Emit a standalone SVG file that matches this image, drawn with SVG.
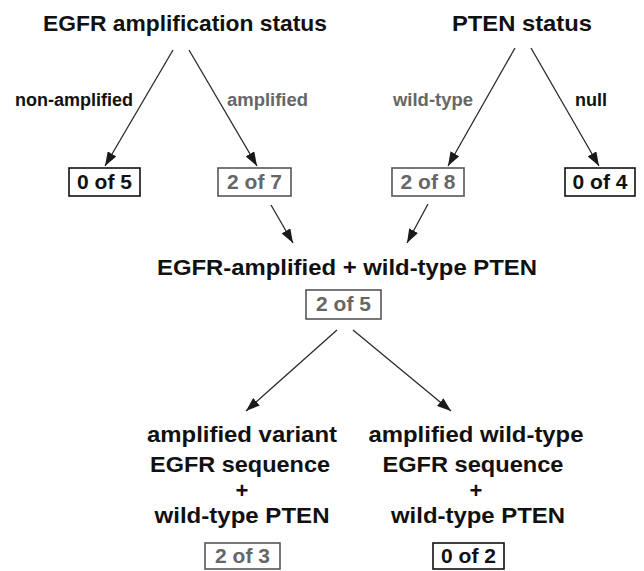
<svg xmlns="http://www.w3.org/2000/svg" width="644" height="571" viewBox="0 0 644 571">
  <defs>
    <marker id="head" viewBox="0 0 14 10" refX="14" refY="5" markerWidth="14" markerHeight="10" markerUnits="userSpaceOnUse" orient="auto">
      <path d="M0,0 L14,5 L0,10 Z" fill="#1a1a1a"/>
    </marker>
    <style>
      text { font-family: "Liberation Sans", Arial, sans-serif; font-weight: bold; text-anchor: middle; }
      .head { font-size: 22px; fill: #111; }
      .lab { font-size: 18px; }
      .num { font-size: 21px; }
      .dark { fill: #111; }
      .gray { fill: #666; }
      .box { fill: #fff; stroke-width: 1.6; }
      .box.dark { stroke: #111; }
      .box.gray { stroke: #555; }
      .conn line { stroke: #2a2a2a; stroke-width: 1.3; marker-end: url(#head); }
    </style>
  </defs>
  <rect width="644" height="571" fill="#fff"/>

  <!-- connectors -->
  <g id="connectors" class="conn">
    <line x1="173" y1="50" x2="105" y2="166"/>
    <line x1="189" y1="50" x2="257" y2="166"/>
    <line x1="515" y1="48" x2="448" y2="166"/>
    <line x1="531" y1="48" x2="599" y2="166"/>
    <line x1="271" y1="205" x2="293" y2="243"/>
    <line x1="428" y1="204" x2="407" y2="243"/>
    <line x1="337" y1="330" x2="246" y2="411"/>
    <line x1="353" y1="330" x2="451" y2="411"/>
  </g>

  <!-- edge labels -->
  <g id="labels">
    <text class="lab dark" x="74" y="106" textLength="118" lengthAdjust="spacingAndGlyphs">non-amplified</text>
    <text class="lab gray" x="267.5" y="106" textLength="81" lengthAdjust="spacingAndGlyphs">amplified</text>
    <text class="lab gray" x="433" y="106" textLength="80" lengthAdjust="spacingAndGlyphs">wild-type</text>
    <text class="lab dark" x="591" y="106" textLength="32" lengthAdjust="spacingAndGlyphs">null</text>
  </g>

  <g id="egfr-status">
    <text class="head" x="185" y="31" textLength="284" lengthAdjust="spacingAndGlyphs">EGFR amplification status</text>
  </g>
  <g id="pten-status">
    <text class="head" x="522" y="31" textLength="140" lengthAdjust="spacingAndGlyphs">PTEN status</text>
  </g>

  <g id="non-amplified-count">
    <rect class="box dark" x="69" y="168" width="71" height="28"/>
    <text class="num dark" x="104.5" y="189">0 of 5</text>
  </g>
  <g id="amplified-count">
    <rect class="box gray" x="218" y="168" width="73" height="28"/>
    <text class="num gray" x="254.5" y="189">2 of 7</text>
  </g>
  <g id="wild-type-count">
    <rect class="box gray" x="392" y="168" width="72" height="28"/>
    <text class="num gray" x="428" y="189">2 of 8</text>
  </g>
  <g id="null-count">
    <rect class="box dark" x="565" y="168" width="70" height="28"/>
    <text class="num dark" x="600" y="189">0 of 4</text>
  </g>

  <g id="combined">
    <text class="head" x="347" y="275" textLength="380" lengthAdjust="spacingAndGlyphs">EGFR-amplified + wild-type PTEN</text>
    <rect class="box gray" x="306" y="290" width="75" height="29"/>
    <text class="num gray" x="343.5" y="311">2 of 5</text>
  </g>

  <g id="variant-egfr">
    <text class="head" x="242" y="442" textLength="190" lengthAdjust="spacingAndGlyphs">amplified variant</text>
    <text class="head" x="240" y="472" textLength="180" lengthAdjust="spacingAndGlyphs">EGFR sequence</text>
    <text class="head" x="242" y="498">+</text>
    <text class="head" x="242" y="523" textLength="175" lengthAdjust="spacingAndGlyphs">wild-type PTEN</text>
    <rect class="box gray" x="205" y="543" width="75" height="26"/>
    <text class="num gray" x="242.5" y="563">2 of 3</text>
  </g>

  <g id="wild-type-egfr">
    <text class="head" x="476" y="442" textLength="215" lengthAdjust="spacingAndGlyphs">amplified wild-type</text>
    <text class="head" x="473" y="472" textLength="181" lengthAdjust="spacingAndGlyphs">EGFR sequence</text>
    <text class="head" x="476" y="498">+</text>
    <text class="head" x="478" y="523" textLength="174" lengthAdjust="spacingAndGlyphs">wild-type PTEN</text>
    <rect class="box dark" x="433" y="543" width="71" height="26"/>
    <text class="num dark" x="468.5" y="563">0 of 2</text>
  </g>
</svg>
